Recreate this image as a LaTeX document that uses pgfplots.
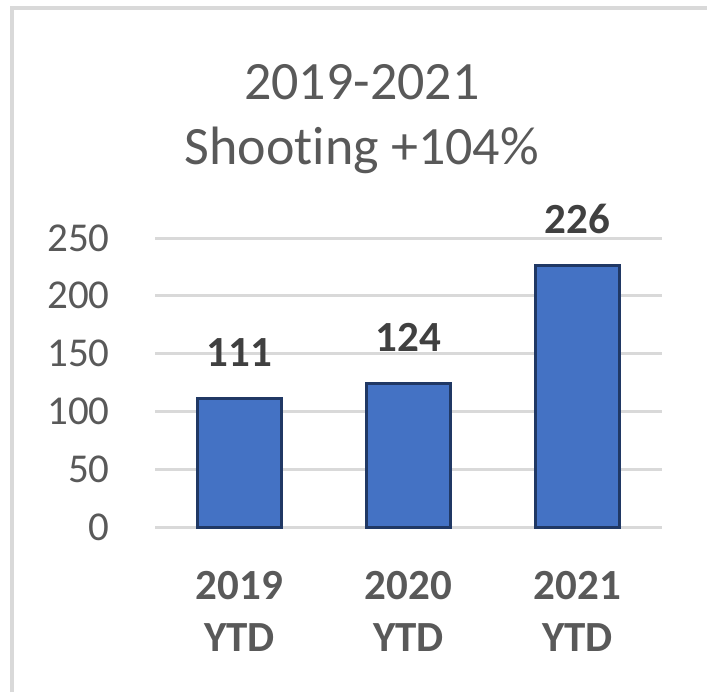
\documentclass[border=0pt]{standalone}
\usepackage{fontspec}
\setmainfont{Carlito}[Ligatures={NoCommon}]
\usepackage{pgfplots}
\pgfplotsset{compat=1.18}

\definecolor{barblue}{HTML}{4472C4}
\definecolor{baredge}{HTML}{203864}
\definecolor{txtgray}{HTML}{595959}
\definecolor{lblgray}{HTML}{404040}
\definecolor{gridgray}{HTML}{D9D9D9}

\begin{document}
\begin{tikzpicture}
% 1 px of the reference = 0.5pt
\useasboundingbox (0,0) rectangle (353.5pt,346pt);
\draw[gridgray, line width=2pt] (6pt,0) -- (6pt,342pt) -- (353.5pt,342pt);

\begin{axis}[
    at={(77.5pt,82.5pt)}, anchor=south west,
    scale only axis,
    width=253.5pt, height=144.5pt,
    xmin=-0.5, xmax=2.5,
    ymin=0, ymax=250,
    ytick={0,50,...,250},
    xtick=data,
    xticklabels={{2019\\YTD},{2020\\YTD},{2021\\YTD}},
    axis line style={draw=none},
    major tick length=0pt,
    ymajorgrids,
    grid style={gridgray, line width=1.5pt},
    /pgf/number format/assume math mode=true,
    yticklabel style={font=\fontsize{20.5}{24}\selectfont, text=txtgray,
        anchor=east, inner sep=0pt, xshift=-22.5pt},
    xticklabel style={font=\bfseries\fontsize{21.5}{26}\selectfont, text=txtgray,
        align=center, anchor=north, inner sep=0pt, yshift=-22pt},
    ybar, bar width=0.5,
    nodes near coords,
    nodes near coords style={font=\bfseries\fontsize{21.5}{26}\selectfont,
        text=lblgray, anchor=base, inner sep=0pt, yshift=16pt},
    title={2019-2021\\Shoot\kern0pt ing +104\%},
    title style={at={(rel axis cs:0.408,1)}, anchor=base, yshift=31pt,
        align=center, font=\fontsize{27}{32.5}\selectfont, text=txtgray},
    clip=false,
]
\addplot[fill=barblue, draw=baredge, line width=1.5pt] coordinates {
    (0,111) (1,124) (2,226)
};
\end{axis}
\end{tikzpicture}
\end{document}
